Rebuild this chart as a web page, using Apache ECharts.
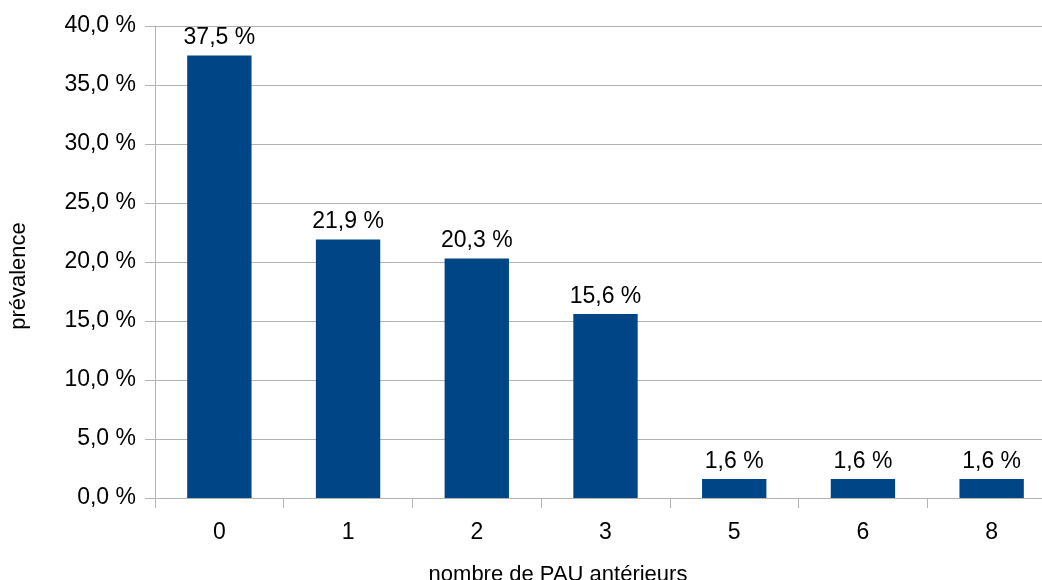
<!DOCTYPE html>
<html><head><meta charset="utf-8">
<script src="https://cdn.jsdelivr.net/npm/echarts@6/dist/echarts.min.js"></script>
<style>html,body{margin:0;padding:0;background:#fff}#c{width:1042px;height:580px}</style>
</head><body><div id="c"></div>
<script>
var categories = ['0','1','2','3','5','6','8'];
var values = [37.5, 21.9, 20.3, 15.6, 1.6, 1.6, 1.6];
var yTicks = {min: 0, max: 40, interval: 5};
var xTitle = 'nombre de PAU antérieurs';
var yTitle = 'prévalence';

function pct(v){ return v.toFixed(1).replace('.', ',') + ' %'; }

var chart = echarts.init(document.getElementById('c'), null, {renderer:'canvas'});
var font = 'Liberation Sans';
chart.setOption({
  animation: false,
  grid: {left: 155, top: 26, bottom: 82, right: -14, containLabel: false, outerBoundsMode: 'none'},
  xAxis: {
    type: 'category', data: categories,
    name: xTitle, nameLocation: 'middle', nameGap: 66,
    nameTextStyle: {fontFamily: font, fontSize: 22, color: '#000', padding: [0, 95, 0, 0]},
    axisLine: {show: true, lineStyle: {color: '#b3b3b3', width: 1}},
    axisTick: {show: true, length: 10, alignWithLabel: false, lineStyle: {color: '#b3b3b3'}},
    axisLabel: {fontFamily: font, fontSize: 23, color: '#000', margin: 23},
    splitLine: {show: false}
  },
  yAxis: {
    type: 'value', min: yTicks.min, max: yTicks.max, interval: yTicks.interval,
    name: yTitle, nameLocation: 'middle', nameGap: 125,
    nameTextStyle: {fontFamily: font, fontSize: 22, color: '#000', padding: [0, 28, 0, 0]},
    axisLine: {show: true, lineStyle: {color: '#b3b3b3', width: 1}},
    axisTick: {show: true, length: 10, lineStyle: {color: '#b3b3b3'}},
    axisLabel: {fontFamily: font, fontSize: 23, color: '#000', margin: 19, formatter: function(v){ return pct(v); }},
    splitLine: {show: true, lineStyle: {color: '#b3b3b3', width: 1}}
  },
  series: [{
    type: 'bar', data: values, barWidth: '50%',
    itemStyle: {color: '#004586'},
    label: {show: true, position: 'top', distance: 6, fontFamily: font, fontSize: 23, color: '#000',
      formatter: function(p){ return pct(p.value); }}
  }]
});
</script></body></html>
